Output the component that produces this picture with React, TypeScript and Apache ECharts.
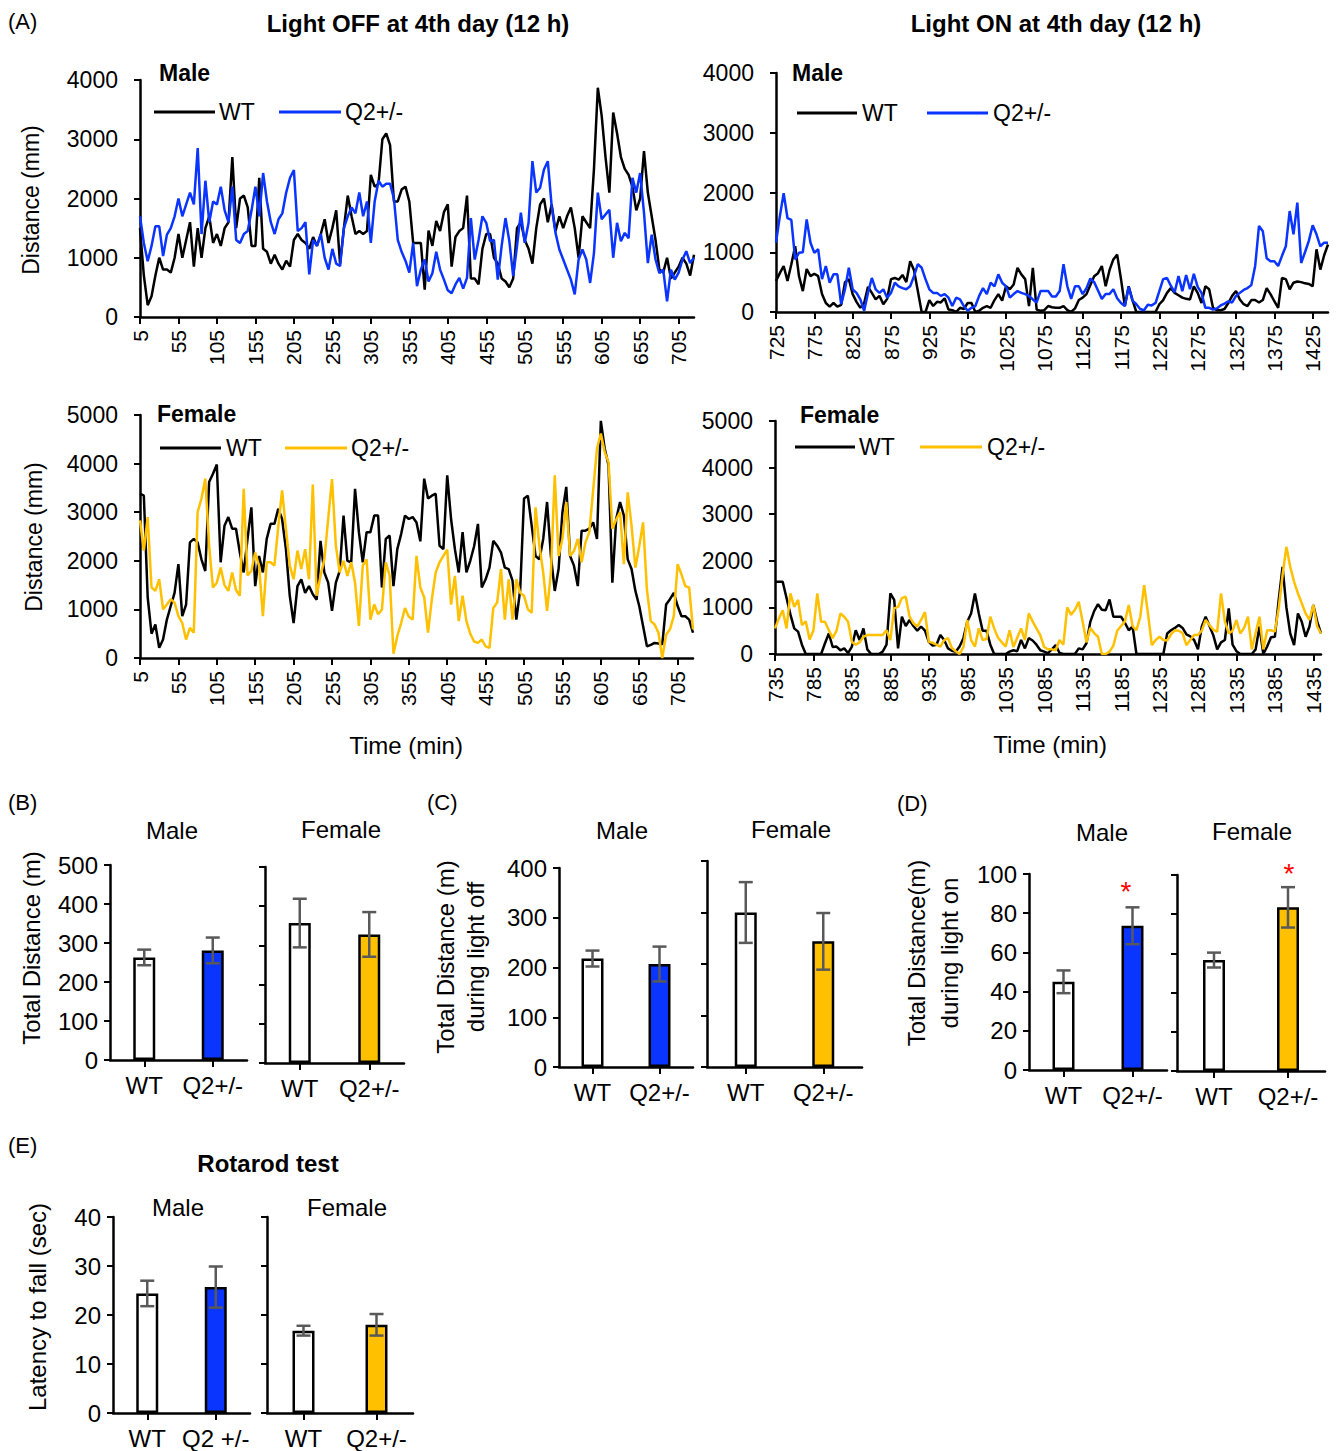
import React, { useEffect, useRef } from 'react';
import * as echarts from 'echarts';

const FONT = '"Liberation Sans", Arial, Helvetica, sans-serif';
const BLUE = '#0a34ff';
const GOLD = '#ffc000';
const ERR = '#595959';

// ---------- categories (minutes, 5-min bins) ----------
const minutes = (start: number, end: number) => {
  const a: string[] = [];
  for (let m = start; m <= end; m += 5) a.push(String(m));
  return a;
};
const catsOff = minutes(5, 725);
const catsOnMale = minutes(725, 1445);
const catsOnFemale = minutes(735, 1445);

// ---------- (A) time courses ----------
const maleOffWT = [1500,700,200,350,700,1000,800,800,750,1000,
1400,1000,1300,1600,850,1500,1000,1500,1700,1250,
1400,1200,1500,1600,2700,1500,2000,2050,1850,1200,
1200,2350,1150,1100,900,1050,900,800,950,850,
1300,1400,1300,1250,1150,1350,1200,1400,1650,1250,
1500,1800,900,1500,2050,1700,1400,1450,1400,1450,
2400,2200,2250,3000,3100,2900,1950,1950,2150,2200,
1950,1250,1250,1250,460,1460,1200,1620,1450,1770,
1900,850,1350,1450,1500,2050,650,650,550,1150,
1400,1400,1000,900,650,600,500,650,1500,1600,
1300,1150,900,1500,1900,2000,1600,1900,1450,1700,
1500,1700,1850,1500,1000,1700,1600,1500,2500,3870,
3400,2700,2100,3450,3100,2700,2500,2400,2200,1800,
2000,2800,2100,1700,1300,800,750,1000,650,750,
850,1000,900,700,1050];

const maleOffQ2 = [1700,1250,940,1200,1530,1530,1030,1390,1500,1700,
2000,1700,1900,2100,1900,2850,1400,2300,1600,1950,
1900,2200,1800,1600,2200,1300,1250,1400,1450,1800,
2200,1700,2430,1950,1600,1400,1650,1750,2100,2350,
2480,1450,1500,1600,720,1300,1200,1400,1000,800,
1150,900,860,1500,1700,1850,1750,2100,1700,1950,
1250,1950,2300,2200,2250,2250,2000,1300,1100,950,
750,1250,520,800,970,600,740,1100,800,630,
450,400,550,660,480,660,1670,970,1300,1700,
1590,1280,1300,630,1200,1670,1280,690,1200,1760,
1250,1590,2630,2100,2180,2490,2630,1870,1420,1140,
970,800,630,380,970,1140,970,575,1080,2100,
1650,1730,1810,1000,1590,1280,1420,1330,2350,2100,
2430,1760,910,1390,970,740,800,265,800,630,
750,970,1110,910,1000];

const maleOnWT = [520,650,770,520,800,1100,600,350,720,600,
640,600,300,150,90,150,90,120,500,550,
300,170,70,150,420,320,210,270,130,220,
550,570,540,620,500,850,700,350,0,0,
200,100,170,160,230,40,30,0,70,50,
150,150,0,20,70,100,70,200,300,190,
430,380,460,740,630,550,100,740,40,20,
30,100,80,70,70,100,30,0,60,200,
240,300,450,600,650,770,430,700,880,960,
550,100,430,200,0,0,0,0,0,0,
130,200,320,400,320,280,240,220,210,430,
320,150,430,380,70,30,30,50,150,270,
350,210,130,100,200,200,160,200,400,300,
180,70,570,550,380,490,510,500,480,470,
430,1050,710,950,1130];

const maleOnQ2 = [1160,1600,1990,1570,1540,880,990,1000,1550,1160,
990,1050,550,770,490,630,630,130,380,740,
380,320,210,20,320,570,380,320,380,240,
320,490,430,400,380,430,600,800,740,550,
380,320,320,270,300,240,100,240,210,100,
20,70,100,270,400,300,490,430,630,490,
430,240,300,350,320,300,270,210,160,350,
350,350,260,260,350,800,430,220,430,430,
300,400,560,500,360,220,300,300,380,230,
150,100,420,190,130,50,30,120,110,150,
350,550,570,440,330,600,350,620,380,640,
420,320,70,70,40,60,110,140,180,160,
270,320,370,400,450,770,1440,1350,900,850,
850,770,940,1100,1690,1300,1830,820,1000,1190,
1450,1300,1100,1160,1160];

const femaleOffWT = [3380,3340,1250,500,690,210,380,790,1070,1340,
1930,860,1100,2380,2450,2380,2030,1790,3620,3790,
3980,1970,2720,2900,2660,2660,2170,1760,2450,3100,
1480,2100,1760,2450,2760,2760,3070,2860,2240,1280,
720,1480,1620,1340,1480,1310,1200,2410,1760,1550,
970,1550,1790,2930,2000,1970,3480,2590,1970,2590,
2590,2930,2930,1450,2450,2520,1480,2240,2550,2930,
2860,2900,2790,2400,3690,3280,3340,3380,2310,2240,
3760,2860,2240,1760,2590,1760,2000,2300,2760,1450,
1620,1860,2410,2310,2170,1860,1830,1590,790,1400,
3280,3340,2720,2100,2030,2450,3210,2100,1380,1830,
3000,3520,2100,1900,1480,2620,2620,2660,2790,2450,
4880,4310,3970,1550,2860,3210,2930,2030,1830,1380,
1070,660,240,270,310,300,280,1100,1210,1340,
1070,860,860,790,520];

const femaleOffQ2 = [2830,2210,2900,1450,1380,1620,1000,1100,1210,1140,
860,720,380,620,520,3000,3280,3690,2310,1450,
1550,1860,1500,1380,1760,1400,1280,3480,1700,1790,
2170,1900,860,1970,1970,1900,2700,3450,2660,1900,
1620,2210,1830,2240,1620,3570,1280,1690,2030,2860,
3680,2310,1760,2000,1690,1970,1550,660,1900,2030,
790,1100,900,1000,1970,1700,90,450,720,1030,
850,790,2100,1450,1250,520,1210,1760,1970,2100,
2230,1100,1690,760,1280,760,500,340,310,380,
240,210,1030,1140,1830,790,1620,790,1620,1340,
1280,1000,930,3100,2310,1760,970,1760,3760,2100,
2450,3210,2100,2200,2450,1970,2380,2590,3450,4310,
4620,4240,4030,2660,2850,3000,1930,3410,2720,1860,
2300,2790,1410,760,690,520,0,480,590,860,
1930,1720,1480,1450,590];

const femaleOnWT = [1550,1550,1550,1200,850,550,480,200,0,0,
0,0,0,230,440,150,160,80,120,20,
160,510,300,550,100,0,0,0,50,200,
1300,1160,120,800,600,730,600,500,590,500,
260,180,200,410,300,120,70,50,160,340,
690,870,1300,870,500,500,200,0,0,0,
0,50,80,60,300,120,340,290,200,80,
50,20,100,190,20,0,0,0,0,120,
100,230,690,920,1070,950,940,1170,800,800,
800,670,510,590,0,0,0,0,0,0,
0,0,440,510,560,620,560,420,380,300,
100,590,800,600,400,100,250,300,980,200,
60,0,0,0,0,100,590,0,160,360,
370,1160,1870,1000,440,190,870,690,370,590,
1050,700,440];

const femaleOnQ2 = [550,760,940,550,1300,1010,1160,620,700,310,
510,1300,690,690,510,340,500,870,800,690,
260,200,250,370,410,410,410,410,410,510,
300,980,1010,1200,1230,800,660,590,730,900,
260,240,200,160,300,340,130,60,0,150,
730,300,160,550,300,320,800,550,350,250,
160,510,150,350,550,300,870,700,550,400,
150,100,100,80,300,200,1000,840,950,1120,
700,250,560,450,370,0,0,50,180,500,
600,700,1050,600,510,800,1480,870,190,300,
370,300,290,420,510,500,450,190,300,410,
410,500,730,620,520,480,1300,700,440,500,
730,440,560,800,100,450,800,100,510,510,
480,980,1690,2300,1870,1550,1300,1090,870,730,
1050,590,440];

// ---------- (B)-(E) bar data: means and SEM ----------
const groups = ['WT', 'Q2+/-'];
const groupsRotarodMale = ['WT', 'Q2 +/-'];
const totalMale = [263, 281];
const totalMaleSem = [20, 33];
const totalFemale = [357, 328];
const totalFemaleSem = [62, 57];
const lightOffMale = [218, 207];
const lightOffMaleSem = [16, 35];
const lightOffFemale = [300, 244];
const lightOffFemaleSem = [59, 55];
const lightOnMale = [45, 73.6];
const lightOnMaleSem = [5.8, 9.4];
const lightOnFemale = [56.6, 83.5];
const lightOnFemaleSem = [3.8, 10.3];
const rotarodMale = [24.4, 25.7];
const rotarodMaleSem = [2.6, 4.2];
const rotarodFemale = [16.8, 18];
const rotarodFemaleSem = [1, 2.2];

const plain = (v: number) => String(v);

function buildOption() {
  const grid: any[] = [
    { left: 140, top: 80, width: 554, height: 237 },
    { left: 776, top: 73, width: 552, height: 239 },
    { left: 140, top: 415, width: 553, height: 243 },
    { left: 775, top: 421, width: 546, height: 233 },
    { left: 110, top: 865, width: 137, height: 195 },
    { left: 265, top: 867, width: 139, height: 196 },
    { left: 559, top: 868, width: 134, height: 199 },
    { left: 707, top: 861, width: 155, height: 206 },
    { left: 1029, top: 874, width: 138, height: 196 },
    { left: 1177, top: 875, width: 148, height: 196 },
    { left: 113, top: 1217, width: 137, height: 196 },
    { left: 267, top: 1217, width: 146, height: 196 },
  ];
  const xAxis: any[] = [];
  const yAxis: any[] = [];
  const series: any[] = [];

  const axisLine = { show: true, lineStyle: { color: '#000', width: 2.5 } };
  const tick = (len: number, extra: any = {}) => ({ show: true, length: len, lineStyle: { color: '#000', width: 2 }, ...extra });

  const linePanels = [
    { cats: catsOff, max: 4000, s: [[maleOffWT, '#000', 'WT'], [maleOffQ2, BLUE, 'Q2+/-']] },
    { cats: catsOnMale, max: 4000, s: [[maleOnWT, '#000', 'WT'], [maleOnQ2, BLUE, 'Q2+/-']] },
    { cats: catsOff, max: 5000, s: [[femaleOffWT, '#000', 'WT'], [femaleOffQ2, GOLD, 'Q2+/-']] },
    { cats: catsOnFemale, max: 5000, s: [[femaleOnWT, '#000', 'WT'], [femaleOnQ2, GOLD, 'Q2+/-']] },
  ];
  linePanels.forEach((p, g) => {
    xAxis.push({
      type: 'category', gridIndex: g, data: p.cats, boundaryGap: false,
      axisLine, axisTick: tick(7, { interval: 9 }),
      axisLabel: { interval: 9, rotate: 90, fontSize: 21, color: '#000', fontFamily: FONT, margin: 13, hideOverlap: false },
      splitLine: { show: false },
    });
    yAxis.push({
      type: 'value', gridIndex: g, min: 0, max: p.max, interval: 1000,
      axisLine, axisTick: tick(6),
      axisLabel: { fontSize: 23, color: '#000', fontFamily: FONT, margin: 22, formatter: plain },
      splitLine: { show: false },
    });
    p.s.forEach(([data, color, name]: any) => {
      series.push({
        type: 'line', name, xAxisIndex: g, yAxisIndex: g, data,
        symbol: 'none', silent: true,
        lineStyle: { color, width: 2.5 }, itemStyle: { color },
      });
    });
  });

  const barPanels = [
    { cats: groups, vals: totalMale, sem: totalMaleSem, max: 500, step: 100, col: BLUE, labels: true },
    { cats: groups, vals: totalFemale, sem: totalFemaleSem, max: 500, step: 100, col: GOLD, labels: false },
    { cats: groups, vals: lightOffMale, sem: lightOffMaleSem, max: 400, step: 100, col: BLUE, labels: true },
    { cats: groups, vals: lightOffFemale, sem: lightOffFemaleSem, max: 400, step: 100, col: GOLD, labels: false },
    { cats: groups, vals: lightOnMale, sem: lightOnMaleSem, max: 100, step: 20, col: BLUE, labels: true },
    { cats: groups, vals: lightOnFemale, sem: lightOnFemaleSem, max: 100, step: 20, col: GOLD, labels: false },
    { cats: groupsRotarodMale, vals: rotarodMale, sem: rotarodMaleSem, max: 40, step: 10, col: BLUE, labels: true },
    { cats: groups, vals: rotarodFemale, sem: rotarodFemaleSem, max: 40, step: 10, col: GOLD, labels: false },
  ];
  barPanels.forEach((p, k) => {
    const g = 4 + k;
    xAxis.push({
      type: 'category', gridIndex: g, data: p.cats,
      axisLine, axisTick: tick(7, { alignWithLabel: true, interval: 0 }),
      axisLabel: { interval: 0, hideOverlap: false, fontSize: 24, color: '#000', fontFamily: FONT, margin: 13 },
      splitLine: { show: false },
    });
    yAxis.push({
      type: 'value', gridIndex: g, min: 0, max: p.max, interval: p.step,
      axisLine, axisTick: tick(6),
      axisLabel: { show: p.labels, fontSize: 24, color: '#000', fontFamily: FONT, margin: 12, formatter: plain },
      splitLine: { show: false },
    });
    series.push({
      type: 'bar', xAxisIndex: g, yAxisIndex: g, barWidth: 22, silent: true,
      data: p.vals.map((v, i) => ({
        value: v,
        itemStyle: { color: i === 0 ? '#ffffff' : p.col, borderColor: '#000', borderWidth: 2.5 },
      })),
    });
    series.push({
      type: 'custom', xAxisIndex: g, yAxisIndex: g, silent: true, z: 10,
      data: p.vals.map((v, i) => [i, v - p.sem[i], v + p.sem[i]]),
      renderItem: (_params: any, api: any) => {
        const lo = api.coord([api.value(0), api.value(1)]);
        const hi = api.coord([api.value(0), api.value(2)]);
        const w = 7;
        const st = { stroke: ERR, lineWidth: 2.5 };
        return {
          type: 'group',
          children: [
            { type: 'line', shape: { x1: lo[0], y1: lo[1], x2: hi[0], y2: hi[1] }, style: st },
            { type: 'line', shape: { x1: lo[0] - w, y1: lo[1], x2: lo[0] + w, y2: lo[1] }, style: st },
            { type: 'line', shape: { x1: hi[0] - w, y1: hi[1], x2: hi[0] + w, y2: hi[1] }, style: st },
          ],
        };
      },
    });
  });

  const T = (text: string, x: number, y: number, o: any = {}, rotation = 0) => ({
    type: 'text', x, y, rotation, silent: true,
    style: { text, fontSize: 23, fontFamily: FONT, fill: '#000', align: 'center', verticalAlign: 'middle', ...o },
  });
  const L = (x1: number, x2: number, y: number, stroke: string) => ({
    type: 'line', silent: true, shape: { x1, y1: y, x2, y2: y }, style: { stroke, lineWidth: 3 },
  });
  const left = { align: 'left' };
  const bold = { fontWeight: 'bold' };
  const R = Math.PI / 2;

  const elements: any[] = [
    T('(A)', 8, 21, { ...left, fontSize: 22 }),
    T('Light OFF at 4th day (12 h)', 418, 23, { ...bold, fontSize: 24 }),
    T('Light ON at 4th day (12 h)', 1056, 23, { ...bold, fontSize: 24 }),
    T('Male', 159, 73, { ...left, ...bold }),
    L(154, 215, 112, '#000'), T('WT', 219, 112, left),
    L(279, 341, 112, BLUE), T('Q2+/-', 345, 112, left),
    T('Male', 792, 73, { ...left, ...bold }),
    L(797, 857, 113, '#000'), T('WT', 862, 113, left),
    L(927, 988, 113, BLUE), T('Q2+/-', 993, 113, left),
    T('Female', 157, 414, { ...left, ...bold }),
    L(160, 221, 448, '#000'), T('WT', 226, 448, left),
    L(285, 347, 448, GOLD), T('Q2+/-', 351, 448, left),
    T('Female', 800, 415, { ...left, ...bold }),
    L(795, 855, 447, '#000'), T('WT', 859, 447, left),
    L(920, 982, 447, GOLD), T('Q2+/-', 987, 447, left),
    T('Distance (mm)', 31, 200, { fontSize: 23 }, R),
    T('Distance (mm)', 34, 537, { fontSize: 23 }, R),
    T('Time (min)', 406, 745, { fontSize: 24 }),
    T('Time (min)', 1050, 744, { fontSize: 24 }),

    T('(B)', 8, 802, { ...left, fontSize: 22 }),
    T('Male', 172, 830, { fontSize: 24 }), T('Female', 341, 829, { fontSize: 24 }),
    T('Total Distance (m)', 31, 948, { fontSize: 24 }, R),

    T('(C)', 427, 802, { ...left, fontSize: 22 }),
    T('Male', 622, 830, { fontSize: 24 }), T('Female', 791, 829, { fontSize: 24 }),
    T('Total Distance (m)\nduring light off', 460, 957, { fontSize: 24, lineHeight: 30 }, R),

    T('(D)', 897, 803, { ...left, fontSize: 22 }),
    T('Male', 1102, 832, { fontSize: 24 }), T('Female', 1252, 831, { fontSize: 24 }),
    T('Total Distance(m)\nduring light on', 933, 953, { fontSize: 24, lineHeight: 33 }, R),
    T('*', 1126, 891, { fontSize: 28, fill: '#ff0000' }),
    T('*', 1289, 873, { fontSize: 28, fill: '#ff0000' }),

    T('(E)', 8, 1145, { ...left, fontSize: 22 }),
    T('Rotarod test', 268, 1163, { ...bold, fontSize: 24 }),
    T('Male', 178, 1207, { fontSize: 24 }), T('Female', 347, 1207, { fontSize: 24 }),
    T('Latency to fall (sec)', 37, 1307, { fontSize: 24 }, R),
  ];

  return {
    animation: false,
    backgroundColor: '#ffffff',
    textStyle: { fontFamily: FONT },
    grid, xAxis, yAxis, series,
    graphic: { elements },
  };
}

export default function App() {
  const ref = useRef<HTMLDivElement>(null);
  useEffect(() => {
    if (!ref.current) return;
    const chart = echarts.init(ref.current, null, { renderer: 'svg' });
    chart.setOption(buildOption() as any);
    return () => chart.dispose();
  }, []);
  return (
    <div
      ref={ref}
      style={{ position: 'absolute', left: 0, top: 0, width: 1338, height: 1451, background: '#fff' }}
    />
  );
}
